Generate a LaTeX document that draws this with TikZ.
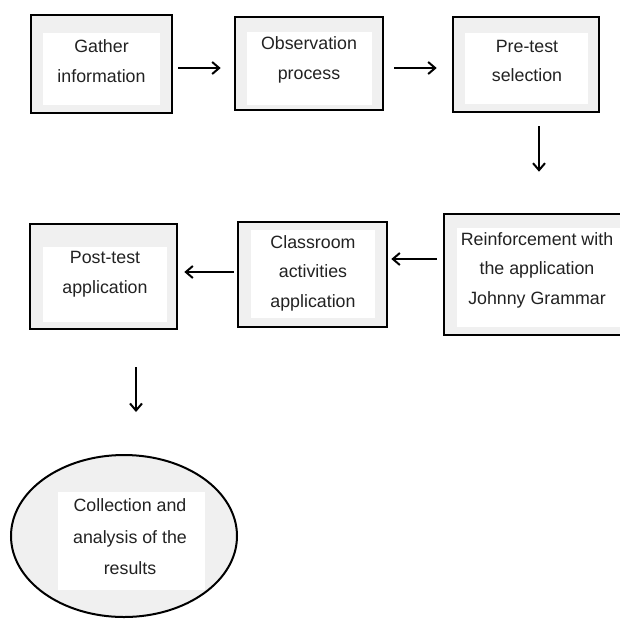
\documentclass[tikz,border=0pt]{standalone}
\usepackage{fontspec}
\setmainfont{Liberation Sans}
\usetikzlibrary{arrows.meta,shapes.geometric}
\definecolor{boxgray}{HTML}{F0F0F0}
\definecolor{txtgray}{HTML}{222222}
\tikzset{
  outerbox/.style={draw=black, line width=2.6pt, fill=boxgray, inner sep=0pt},
  innerwhite/.style={fill=white, draw=none, inner sep=0pt},
  label/.style={align=center, inner sep=0pt, text=txtgray, font=\fontsize{17.8}{29.5}\selectfont},
  elabel/.style={align=center, inner sep=0pt, text=txtgray, font=\fontsize{17.8}{31.5}\selectfont},
  arr/.style={line width=2pt, -{Straight Barb[length=7pt,width=12pt,line width=2pt]}},
}
\begin{document}
\begin{tikzpicture}[x=1pt,y=-1pt]
\useasboundingbox (0,0) rectangle (620,619);
% row 1
\node[outerbox, minimum width=141pt, minimum height=98pt] (b1) at (101.5,64) {};
\node[innerwhite, minimum width=117pt, minimum height=72pt] (w1) at (101.5,69) {};
\node[label] (t1) at (101.5,61) {Gather\\information};

\node[outerbox, minimum width=148pt, minimum height=93pt] (b2) at (309,63.5) {};
\node[innerwhite, minimum width=125pt, minimum height=73pt] (w2) at (309.5,68.5) {};
\node[label] (t2) at (309,60) {Observation\\process};

\node[outerbox, minimum width=146pt, minimum height=95pt] (b3) at (526,64.5) {};
\node[innerwhite, minimum width=123pt, minimum height=71pt] (w3) at (526.5,68.5) {};
\node[label] (t3) at (527,61) {Pre-test\\selection};

% row 2
\node[outerbox, minimum width=186pt, minimum height=121pt] (b4) at (537,274.5) {};
\node[innerwhite, minimum width=165pt, minimum height=99pt] (w4) at (539.5,277.5) {};
\node[label] (t4) at (537,270) {Reinforcement with\\the application\\Johnny Grammar};

\node[outerbox, minimum width=149pt, minimum height=105pt] (b5) at (312.5,274.5) {};
\node[innerwhite, minimum width=124pt, minimum height=88pt] (w5) at (313,274) {};
\node[label] (t5) at (313,273) {Classroom\\activities\\application};

\node[outerbox, minimum width=147pt, minimum height=105pt] (b6) at (103.5,276.5) {};
\node[innerwhite, minimum width=124pt, minimum height=75pt] (w6) at (105,284.5) {};
\node[label] (t6) at (105,274) {Post-test\\application};

% ellipse
\node[ellipse, draw=black, line width=2pt, fill=boxgray, inner sep=0pt,
      minimum width=226pt, minimum height=162pt] (e) at (124,536) {};
\node[innerwhite, minimum width=147pt, minimum height=98pt] (we) at (131.5,541) {};
\node[elabel] (te) at (130,537) {Collection and\\analysis of the\\results};

% connectors
\draw[arr, shorten <=5pt, shorten >=13pt] (b1.east |- 0,68) -- (b2.west |- 0,68);
\draw[arr, shorten <=10pt, shorten >=15pt] (b2.east |- 0,68) -- (b3.west |- 0,68);
\draw[arr, shorten <=13pt, shorten >=41pt] (b3.south -| 539,0) -- (b4.north -| 539,0);
\draw[arr, shorten <=6pt, shorten >=3pt] (b4.west |- 0,259) -- (b5.east |- 0,259);
\draw[arr, shorten <=3pt, shorten >=6pt] (b5.west |- 0,272) -- (b6.east |- 0,272);
\draw[arr, shorten <=37pt, shorten >=42pt] (b6.south -| 136,0) -- (e.north -| 136,0);
\end{tikzpicture}
\end{document}
